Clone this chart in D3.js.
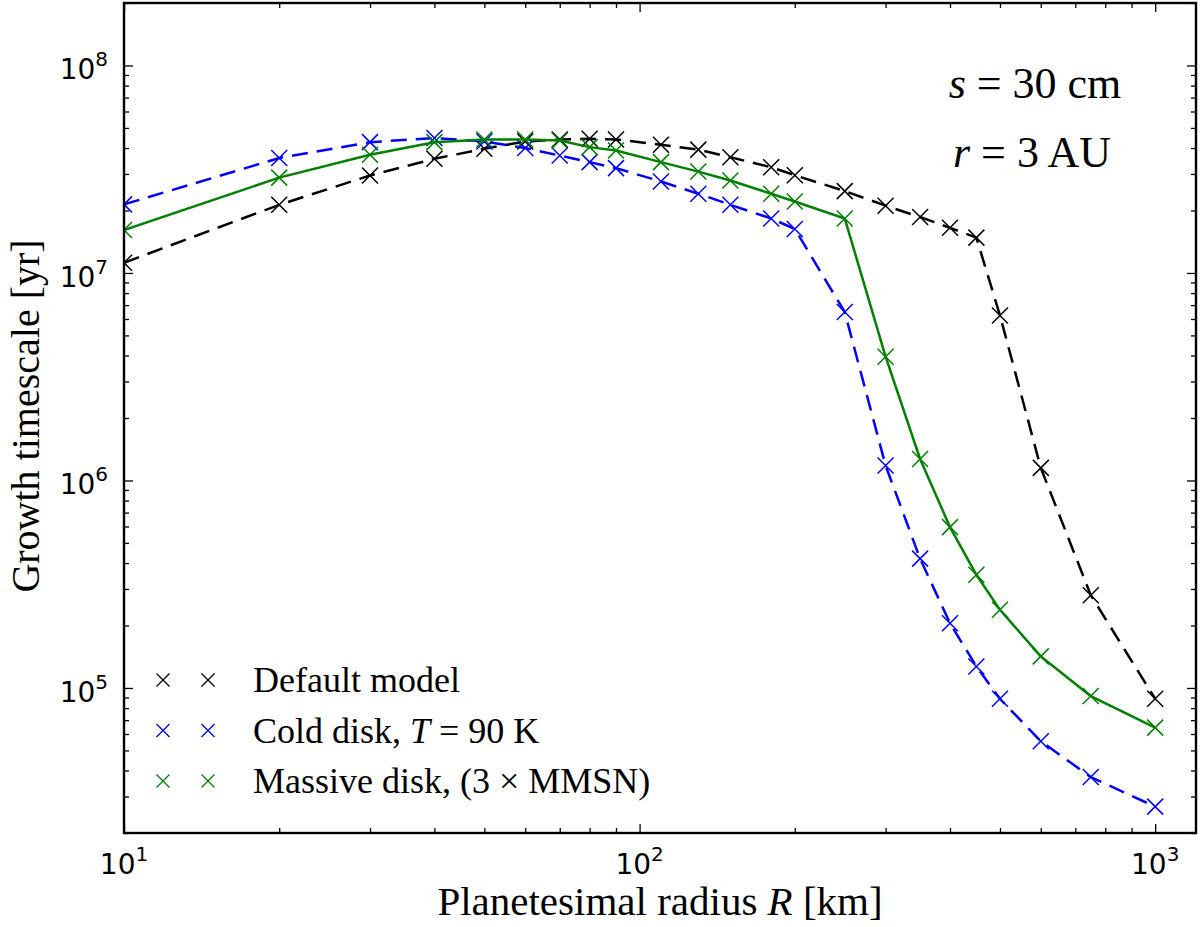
<!DOCTYPE html>
<html>
<head>
<meta charset="utf-8">
<script src="https://cdn.jsdelivr.net/npm/d3@7"></script>
<style>
  body { margin: 0; background: #fff; }
  svg { display: block; }
</style>
</head>
<body>
<svg id="chart" width="1200" height="927"></svg>
<script>
// planetesimal radius R [km]
const radii = [10, 20, 30, 40, 50, 60, 70, 80, 90, 110, 130, 150, 180, 200, 250, 300, 350, 400, 450, 500, 600, 750, 1000];

// growth timescale [yr]
const defaultModel = [1.12e7, 2.13e7, 2.95e7, 3.55e7, 3.97e7, 4.3e7, 4.4e7, 4.43e7, 4.4e7, 4.15e7, 3.93e7, 3.61e7, 3.23e7, 2.96e7, 2.48e7, 2.11e7, 1.86e7, 1.65e7, 1.48e7, 6.24e6, 1.15e6, 2.8e5, 8.87e4];
const coldDisk = [2.14e7, 3.58e7, 4.27e7, 4.47e7, 4.3e7, 4.0e7, 3.68e7, 3.42e7, 3.2e7, 2.76e7, 2.41e7, 2.13e7, 1.83e7, 1.63e7, 6.48e6, 1.18e6, 4.2e5, 2.05e5, 1.27e5, 8.87e4, 5.54e4, 3.72e4, 2.68e4];
const massiveDisk = [1.61e7, 2.88e7, 3.71e7, 4.27e7, 4.4e7, 4.4e7, 4.35e7, 4.04e7, 3.89e7, 3.42e7, 3.08e7, 2.79e7, 2.41e7, 2.21e7, 1.83e7, 3.95e6, 1.27e6, 5.96e5, 3.51e5, 2.38e5, 1.42e5, 9.14e4, 6.44e4];

const xTickExp = [1, 2, 3];
const yTickExp = [5, 6, 7, 8];

const series = [
  { name: 'default', values: defaultModel, color: '#000000', dash: '16,9' },
  { name: 'cold', values: coldDisk, color: '#0000ff', dash: '16,9' },
  { name: 'massive', values: massiveDisk, color: '#008000', dash: null },
];

const margin = { left: 124, right: 4, top: 3, bottom: 94 };
const width = 1200, height = 927;
const svg = d3.select('#chart');

const x = d3.scaleLog().domain([10, 1200]).range([margin.left, width - margin.right]);
const y = d3.scaleLog().domain([2e4, 2e8]).range([height - margin.bottom, margin.top]);

const isMajor = v => Math.abs(Math.log10(v) - Math.round(Math.log10(v))) < 1e-9;
const xMajor = x.ticks().filter(isMajor), xMinor = x.ticks().filter(v => !isMajor(v));
const yMajor = y.ticks().filter(isMajor), yMinor = y.ticks().filter(v => !isMajor(v));

const x0 = x.range()[0], x1 = x.range()[1];
const y0 = y.range()[0], y1 = y.range()[1];

svg.append('defs').append('clipPath').attr('id', 'clip')
  .append('rect').attr('x', x0).attr('y', y1).attr('width', x1 - x0).attr('height', y0 - y1);

// ticks, all pointing inward
const tickAxis = (axis, vals, len, tr) => {
  const g = svg.append('g').attr('transform', tr)
    .call(axis.tickValues(vals).tickSize(-len).tickFormat(''));
  g.select('.domain').remove();
  g.selectAll('.tick line').attr('stroke', '#000').attr('stroke-width', 1.3);
};
tickAxis(d3.axisBottom(x), xMajor, 9, `translate(0,${y0})`);
tickAxis(d3.axisBottom(x), xMinor, 5, `translate(0,${y0})`);
tickAxis(d3.axisTop(x), xMajor, 9, `translate(0,${y1})`);
tickAxis(d3.axisTop(x), xMinor, 5, `translate(0,${y1})`);
tickAxis(d3.axisLeft(y), yMajor, 9, `translate(${x0},0)`);
tickAxis(d3.axisLeft(y), yMinor, 5, `translate(${x0},0)`);
tickAxis(d3.axisRight(y), yMajor, 9, `translate(${x1},0)`);
tickAxis(d3.axisRight(y), yMinor, 5, `translate(${x1},0)`);

// data
const plot = svg.append('g').attr('clip-path', 'url(#clip)');
const line = d3.line().x(d => x(d[0])).y(d => y(d[1]));
const cross = s => `M${-s},${-s}L${s},${s}M${-s},${s}L${s},${-s}`;

series.forEach(s => {
  const pts = radii.map((r, i) => [r, s.values[i]]);
  plot.append('path').datum(pts)
    .attr('d', line)
    .attr('fill', 'none')
    .attr('stroke', s.color)
    .attr('stroke-width', 2.5)
    .attr('stroke-dasharray', s.dash);
  plot.selectAll(null).data(pts).enter().append('path')
    .attr('transform', d => `translate(${x(d[0])},${y(d[1])})`)
    .attr('d', cross(8))
    .attr('fill', 'none')
    .attr('stroke', s.color)
    .attr('stroke-width', 1.5);
});

// frame
svg.append('rect')
  .attr('x', x0).attr('y', y1).attr('width', x1 - x0).attr('height', y0 - y1)
  .attr('fill', 'none').attr('stroke', '#000').attr('stroke-width', 2.4);

// tick labels
const sans = 'DejaVu Sans, sans-serif';
const serif = 'Liberation Serif, serif';

xTickExp.forEach(e => {
  const t = svg.append('text')
    .attr('x', x(Math.pow(10, e))).attr('y', 874)
    .attr('text-anchor', 'middle')
    .attr('font-family', sans).attr('font-size', 28);
  t.append('tspan').text('10');
  t.append('tspan').attr('dy', -13).attr('font-size', 20).text(e);
});

yTickExp.forEach(e => {
  const t = svg.append('text')
    .attr('x', 108).attr('y', y(Math.pow(10, e)) + 14)
    .attr('text-anchor', 'end')
    .attr('font-family', sans).attr('font-size', 28);
  t.append('tspan').text('10');
  t.append('tspan').attr('dy', -13).attr('font-size', 20).text(e);
});

// axis labels
const xl = svg.append('text')
  .attr('x', 660).attr('y', 915)
  .attr('text-anchor', 'middle')
  .attr('font-family', serif).attr('font-size', 41);
xl.append('tspan').text('Planetesimal radius ');
xl.append('tspan').attr('font-style', 'italic').text('R');
xl.append('tspan').text(' [km]');

svg.append('text')
  .attr('transform', `translate(39,416) rotate(-90)`)
  .attr('text-anchor', 'middle')
  .attr('font-family', serif).attr('font-size', 40)
  .text('Growth timescale [yr]');

// annotation
const note = (parts, xx, yy) => {
  const t = svg.append('text').attr('x', xx).attr('y', yy)
    .attr('text-anchor', 'middle')
    .attr('font-family', serif).attr('font-size', 44);
  parts.forEach(p => t.append('tspan').attr('font-style', p[1] ? 'italic' : null).text(p[0]));
};
note([['s', true], [' = 30 cm', false]], 1035, 98);
note([['r', true], [' = 3 AU', false]], 1032, 167);

// legend
const legendItems = [
  { color: '#000000', parts: [['Default model', false]] },
  { color: '#0000ff', parts: [['Cold disk, ', false], ['T', true], [' = 90 K', false]] },
  { color: '#008000', parts: [['Massive disk, (3 \u00d7 MMSN)', false]] },
];
legendItems.forEach((it, i) => {
  const yy = 680 + i * 50.5;
  [163, 208].forEach(mx => {
    svg.append('path')
      .attr('transform', `translate(${mx},${yy})`)
      .attr('d', cross(6.5))
      .attr('fill', 'none').attr('stroke', it.color).attr('stroke-width', 1.3);
  });
  const t = svg.append('text').attr('x', 253).attr('y', yy + 12)
    .attr('font-family', serif).attr('font-size', 36);
  it.parts.forEach(p => t.append('tspan').attr('font-style', p[1] ? 'italic' : null).text(p[0]));
});
</script>
</body>
</html>
